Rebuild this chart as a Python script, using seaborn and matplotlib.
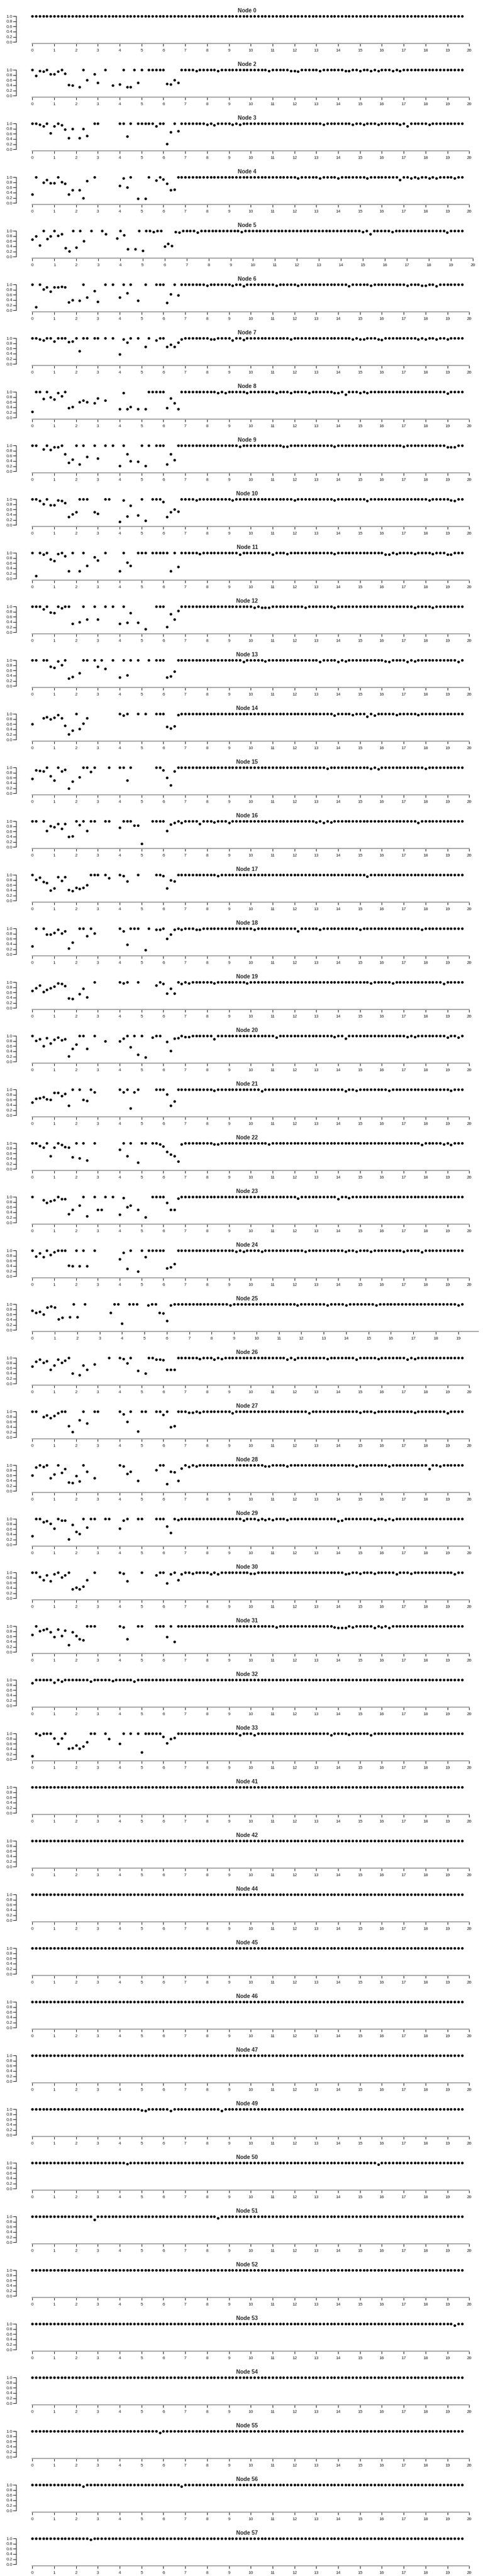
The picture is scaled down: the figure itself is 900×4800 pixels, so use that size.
import numpy as np
import pandas as pd
import matplotlib
matplotlib.use("Agg")
import matplotlib.pyplot as plt
import seaborn as sns

nan = np.nan

# sampling grid: one reading every 1/6 unit, 119 readings per node
time_steps = np.arange(119) / 6

# values per node, 24 readings per line
node_0 = [
    1, 1, 1, 1, 1, 1, 1, 1, 1, 1, 1, 1, 1, 1, 1, 1, 1, 1, 1, 1, 1, 1, 1, 1,
    1, 1, 1, 1, 1, 1, 1, 1, 1, 1, 1, 1, 1, 1, 1, 1, 1, 1, 1, 1, 1, 1, 1, 1,
    1, 1, 1, 1, 1, 1, 1, 1, 1, 1, 1, 1, 1, 1, 1, 1, 1, 1, 1, 1, 1, 1, 1, 1,
    1, 1, 1, 1, 1, 1, 1, 1, 1, 1, 1, 1, 1, 1, 1, 1, 1, 1, 1, 1, 1, 1, 1, 1,
    1, 1, 1, 1, 1, 1, 1, 1, 1, 1, 1, 1, 1, 1, 1, 1, 1, 1, 1, 1, 1, 1, 1]
node_2 = [
    1, .77, .96, .93, 1, .83, .84, .94, 1, .86, .41, .39, nan, .33, 1, .6, nan, .83, .5, nan, 1, nan, .4, nan,
    .44, 1, .33, .33, 1, .5, 1, nan, 1, 1, 1, 1, 1, .47, .44, .6, .5, 1, 1, 1, 1, .95, 1, 1,
    1, 1, 1, .95, 1, 1, 1, 1, 1, 1, 1, 1, 1, 1, 1, 1, 1, .95, 1, 1, 1, 1, 1, .95,
    .95, .94, 1, 1, 1, 1, 1, .96, 1, 1, 1, 1, 1, 1, .95, .95, 1, 1, .95, 1, 1, .95, 1, .95,
    1, 1, 1, .95, 1, .95, 1, 1, 1, 1, 1, 1, 1, 1, 1, 1, 1, 1, 1, 1, 1, 1, 1]
node_3 = [
    1, 1, .95, .89, 1, .62, .89, 1, .93, .78, .44, .8, nan, .44, .8, .53, nan, 1, 1, nan, nan, nan, nan, nan,
    1, 1, .5, 1, nan, 1, 1, 1, 1, 1, .89, 1, 1, .21, .66, 1, .7, 1, 1, 1, 1, 1, 1, 1,
    .96, 1, .94, 1, 1, 1, 1, .95, 1, .95, 1, 1, 1, 1, 1, 1, 1, 1, 1, 1, 1, 1, 1, 1,
    1, 1, 1, 1, 1, 1, 1, 1, .95, 1, 1, 1, 1, 1, 1, 1, .95, 1, 1, .96, 1, 1, 1, .95,
    1, 1, 1, 1, 1, .96, 1, .9, 1, 1, 1, 1, 1, .96, 1, 1, 1, 1, 1, 1, 1, 1, 1]
node_4 = [
    .33, 1, nan, .8, .89, .77, .77, 1, .82, .75, .33, .5, nan, .5, .2, .86, nan, 1, nan, nan, nan, nan, nan, nan,
    .67, .95, .6, 1, nan, .17, nan, .18, 1, nan, .88, 1, .92, .75, .5, .53, 1, 1, 1, 1, 1, 1, 1, 1,
    1, 1, 1, 1, 1, 1, 1, 1, 1, 1, 1, 1, 1, 1, 1, 1, 1, 1, 1, 1, 1, 1, 1, 1,
    1, .95, 1, 1, 1, 1, 1, .95, 1, 1, 1, 1, .95, 1, 1, 1, 1, 1, 1, 1, .95, 1, 1, 1,
    1, 1, 1, 1, 1, .89, 1, 1, .95, 1, .95, 1, 1, .95, 1, .95, 1, 1, 1, 1, .95, 1, 1]
node_5 = [
    .66, .8, .44, 1, .69, .8, 1, .81, .87, .34, .22, 1, .36, 1, .6, nan, 1, nan, nan, 1, .87, nan, nan, .72,
    1, .83, .29, nan, .29, 1, .24, 1, 1, .95, 1, 1, .4, .5, .42, .95, .94, 1, 1, 1, 1, .94, 1, 1,
    1, 1, 1, 1, 1, 1, 1, 1, 1, .95, 1, 1, 1, 1, 1, 1, 1, 1, 1, 1, 1, 1, 1, 1,
    1, 1, 1, 1, 1, 1, 1, 1, 1, 1, 1, 1, 1, 1, 1, 1, 1, 1, .95, 1, .88, 1, 1, 1,
    1, 1, .95, 1, 1, 1, 1, 1, 1, 1, 1, 1, 1, 1, 1, 1, 1, .93, 1, 1, 1, 1, nan]
node_6 = [
    1, .12, 1, .82, .89, .73, .9, .9, .92, .89, .32, .4, nan, .38, 1, .5, nan, .75, .33, nan, 1, nan, 1, nan,
    .5, 1, .67, 1, nan, .37, nan, 1, nan, nan, 1, 1, 1, .3, .63, 1, .59, 1, 1, 1, 1, 1, 1, 1,
    .95, 1, 1, 1, 1, 1, 1, .95, 1, 1, .93, 1, 1, 1, 1, 1, 1, 1, 1, .95, 1, 1, 1, 1,
    1, .95, 1, 1, 1, 1, 1, 1, 1, 1, 1, 1, 1, 1, 1, .94, 1, 1, 1, 1, 1, .95, 1, 1,
    1, 1, 1, 1, 1, 1, 1, .95, 1, 1, 1, .96, .96, 1, 1, .94, 1, 1, 1, 1, 1, 1, 1]
node_7 = [
    1, 1, .95, .91, 1, 1, .87, 1, 1, 1, .86, .87, 1, .5, 1, 1, nan, 1, 1, nan, 1, nan, 1, nan,
    .38, .96, .84, 1, nan, 1, nan, .67, 1, nan, .91, 1, 1, .67, .75, .67, .83, .95, 1, 1, 1, 1, 1, 1,
    1, .95, .95, 1, 1, 1, 1, .91, 1, 1, .93, 1, 1, 1, 1, 1, 1, 1, 1, 1, 1, 1, 1, .96,
    1, 1, 1, 1, 1, 1, 1, 1, 1, 1, 1, 1, 1, 1, 1, 1, .95, 1, .96, .96, 1, 1, 1, .96,
    .94, 1, 1, 1, 1, 1, 1, 1, 1, 1, .96, 1, .95, 1, 1, .95, 1, 1, .96, 1, 1, 1, 1]
node_8 = [
    .24, 1, 1, .73, 1, .8, .72, .95, .84, 1, .38, .43, nan, .6, .67, .6, nan, .57, .75, nan, .67, nan, nan, nan,
    .33, .95, .33, .43, nan, .33, nan, .33, 1, 1, 1, 1, 1, .38, .75, .57, .33, 1, 1, 1, 1, 1, 1, 1,
    1, 1, 1, .95, 1, .95, 1, 1, 1, 1, 1, .95, 1, 1, 1, 1, 1, 1, 1, .95, 1, 1, 1, .95,
    1, 1, 1, 1, .95, 1, 1, 1, 1, 1, 1, .95, .95, 1, .89, 1, 1, 1, .95, 1, .95, 1, 1, 1,
    1, 1, 1, 1, 1, 1, 1, 1, 1, 1, 1, 1, 1, 1, 1, 1, 1, 1, .94, 1, 1, 1, 1]
node_9 = [
    1, 1, nan, .86, 1, .83, .93, .93, 1, .67, .33, .47, 1, .27, 1, .57, nan, 1, .5, nan, 1, nan, 1, nan,
    .21, 1, .67, .4, nan, .37, 1, .22, 1, nan, 1, 1, 1, .27, .67, .45, 1, 1, 1, 1, 1, 1, 1, 1,
    1, 1, 1, 1, 1, 1, 1, 1, 1, .95, 1, 1, 1, 1, 1, 1, 1, 1, 1, 1, 1, .95, .95, 1,
    1, 1, 1, 1, 1, 1, 1, 1, 1, 1, 1, .95, 1, 1, 1, 1, 1, 1, 1, 1, 1, 1, 1, 1,
    1, 1, 1, 1, 1, 1, .95, 1, 1, 1, 1, 1, 1, 1, 1, 1, 1, 1, .94, .94, .94, 1, 1]
node_10 = [
    1, 1, .94, .81, 1, .77, .78, .95, .93, .86, .31, .41, .5, 1, 1, 1, nan, .5, .44, nan, 1, 1, nan, nan,
    .14, .95, .33, .75, nan, .38, 1, .17, nan, 1, 1, 1, .9, .31, .5, .6, .52, 1, 1, 1, 1, .95, 1, 1,
    1, 1, 1, 1, 1, 1, 1, .95, 1, 1, 1, 1, 1, 1, 1, 1, 1, 1, 1, 1, 1, 1, 1, 1,
    .95, 1, 1, 1, 1, 1, 1, 1, 1, 1, 1, .95, 1, 1, 1, 1, 1, 1, 1, 1, .94, 1, 1, 1,
    1, 1, 1, 1, 1, 1, 1, 1, 1, 1, 1, 1, 1, .95, 1, 1, 1, 1, 1, .95, .94, 1, 1]
node_11 = [
    1, .11, 1, .93, 1, .75, .69, .95, 1, .87, .3, 1, nan, .29, 1, .5, nan, .83, .71, nan, 1, nan, nan, nan,
    .3, 1, .63, .5, nan, 1, 1, 1, nan, 1, 1, 1, 1, 1, .3, 1, .47, 1, 1, 1, 1, 1, .95, 1,
    1, 1, 1, 1, 1, 1, 1, 1, 1, .94, 1, 1, 1, 1, 1, 1, 1, 1, .93, 1, 1, 1, .95, 1,
    1, 1, 1, 1, 1, 1, 1, 1, 1, 1, 1, .95, 1, 1, 1, 1, 1, 1, 1, 1, 1, 1, 1, 1,
    1, .94, .94, 1, .95, 1, 1, 1, 1, .95, 1, 1, 1, 1, .95, 1, 1, 1, .94, .93, 1, 1, 1]
node_12 = [
    1, 1, 1, .9, 1, .77, .75, 1, .93, 1, 1, .34, nan, .4, 1, .5, nan, 1, .5, nan, 1, nan, 1, nan,
    .34, 1, .38, .75, nan, .38, nan, .13, nan, nan, 1, 1, 1, .22, .72, .5, .83, 1, 1, 1, 1, 1, 1, 1,
    1, 1, 1, 1, 1, 1, 1, 1, 1, 1, 1, 1, 1, .95, 1, .95, .95, .95, 1, 1, 1, 1, 1, 1,
    1, 1, 1, .95, 1, 1, 1, 1, 1, 1, 1, .95, 1, 1, 1, 1, 1, 1, 1, 1, 1, 1, 1, 1,
    1, 1, 1, 1, 1, 1, 1, 1, 1, .95, 1, 1, 1, 1, .95, 1, 1, 1, 1, 1, 1, 1, 1]
node_13 = [
    1, 1, nan, 1, 1, .75, .71, .95, .82, 1, .29, .35, nan, .5, 1, 1, nan, 1, .75, 1, .67, nan, 1, nan,
    .33, 1, .43, 1, nan, 1, nan, nan, 1, nan, 1, 1, 1, .33, .37, .57, 1, 1, 1, 1, 1, 1, 1, 1,
    1, 1, 1, 1, 1, 1, 1, 1, 1, 1, .93, 1, 1, 1, 1, 1, .95, 1, 1, 1, 1, 1, 1, 1,
    1, 1, 1, 1, 1, 1, 1, .94, 1, 1, 1, 1, .94, 1, .95, 1, 1, 1, 1, 1, 1, 1, 1, 1,
    1, .96, .93, 1, 1, 1, 1, .94, 1, .95, 1, 1, 1, 1, 1, 1, 1, 1, 1, 1, 1, .93, 1]
node_14 = [
    .6, nan, nan, .83, .88, .8, .85, .95, .83, .55, .21, .35, 1, .43, .62, .83, nan, nan, nan, nan, nan, nan, nan, nan,
    1, .93, 1, nan, nan, 1, nan, 1, nan, nan, 1, 1, 1, .5, .44, .52, .95, 1, 1, 1, 1, 1, 1, 1,
    1, 1, 1, 1, 1, 1, 1, 1, 1, 1, 1, 1, 1, 1, 1, 1, 1, 1, 1, 1, 1, 1, 1, 1,
    1, 1, 1, 1, 1, 1, 1, 1, 1, 1, 1, .94, 1, 1, 1, 1, .95, 1, 1, 1, .89, 1, .94, 1,
    1, 1, 1, 1, .95, 1, 1, 1, 1, 1, .95, 1, 1, 1, 1, 1, 1, 1, 1, 1, 1, 1, 1]
node_15 = [
    .57, .9, .88, .85, 1, .67, .5, 1, .86, .92, .19, .46, nan, .63, 1, 1, .83, 1, nan, nan, nan, 1, nan, nan,
    1, 1, .5, 1, nan, nan, nan, nan, nan, nan, 1, 1, .89, .6, .32, .86, 1, 1, 1, 1, 1, 1, 1, 1,
    1, 1, 1, 1, 1, 1, 1, 1, 1, 1, 1, 1, 1, 1, 1, 1, 1, 1, 1, 1, 1, 1, 1, 1,
    1, 1, 1, 1, 1, 1, 1, 1, 1, .95, 1, 1, 1, 1, 1, 1, 1, 1, 1, 1, 1, .95, 1, .94,
    1, 1, 1, 1, 1, 1, 1, 1, 1, 1, 1, 1, .95, 1, 1, 1, 1, 1, 1, 1, 1, 1, 1]
node_16 = [
    1, 1, nan, 1, .63, .82, .78, .89, .7, .89, .4, .41, 1, .85, 1, .63, 1, 1, nan, nan, 1, 1, nan, nan,
    .75, 1, 1, 1, .84, .83, .12, nan, nan, 1, 1, 1, 1, .63, .88, .93, 1, .94, 1, 1, 1, 1, .89, 1,
    1, 1, .95, 1, 1, 1, .94, 1, 1, 1, 1, 1, 1, 1, 1, 1, 1, 1, 1, 1, 1, 1, 1, 1,
    1, 1, 1, 1, 1, 1, .95, 1, .93, 1, .95, 1, 1, 1, 1, 1, 1, 1, 1, 1, 1, 1, 1, 1,
    1, 1, 1, 1, 1, 1, 1, 1, 1, 1, .94, 1, 1, 1, 1, 1, 1, 1, 1, 1, 1, 1, 1]
node_17 = [
    1, .82, .9, .73, .69, .4, .48, .91, .77, .91, .42, .37, .5, .47, .5, .6, 1, 1, 1, nan, 1, .87, nan, nan,
    1, .95, .75, nan, nan, 1, nan, nan, nan, nan, 1, 1, .95, .48, .8, .75, 1, 1, 1, 1, 1, 1, 1, 1,
    1, 1, 1, .95, 1, 1, 1, 1, 1, 1, 1, 1, 1, 1, 1, 1, 1, 1, 1, 1, 1, 1, 1, 1,
    1, 1, 1, 1, 1, 1, 1, 1, 1, 1, 1, 1, 1, 1, 1, 1, 1, 1, 1, 1, .94, 1, 1, 1,
    1, 1, 1, 1, 1, 1, 1, 1, 1, 1, 1, 1, 1, 1, 1, 1, 1, 1, 1, 1, 1, 1, 1]
node_18 = [
    .31, 1, nan, 1, .78, .77, .84, .95, .81, .9, .24, .47, nan, 1, 1, .7, 1, .82, nan, nan, nan, nan, nan, nan,
    1, .89, .38, 1, 1, 1, nan, .18, 1, nan, .95, .95, 1, .6, .77, .95, 1, .95, 1, 1, 1, .95, .95, 1,
    1, 1, 1, 1, 1, 1, 1, 1, 1, 1, 1, 1, 1, .95, 1, 1, 1, 1, 1, 1, 1, 1, 1, 1,
    1, .89, 1, 1, 1, 1, 1, .95, 1, 1, 1, 1, 1, 1, 1, 1, 1, 1, .95, 1, 1, 1, 1, 1,
    1, 1, 1, 1, 1, 1, 1, 1, 1, 1, 1, .96, 1, 1, 1, 1, 1, 1, 1, 1, 1, 1, 1]
node_19 = [
    .67, .77, .87, .62, .7, .77, .83, .95, .94, .86, .38, .36, nan, .55, .75, .43, nan, 1, nan, nan, nan, nan, nan, nan,
    1, .95, 1, nan, nan, 1, nan, nan, nan, nan, .87, 1, .93, .57, .75, .57, 1, .94, 1, .95, 1, 1, 1, 1,
    1, 1, .95, 1, 1, 1, 1, 1, 1, 1, 1, .95, 1, 1, 1, 1, 1, 1, 1, 1, 1, 1, 1, 1,
    1, 1, 1, 1, 1, 1, 1, 1, 1, 1, 1, 1, 1, 1, 1, 1, 1, 1, 1, 1, 1, .95, 1, 1,
    1, 1, 1, .95, 1, 1, 1, 1, 1, 1, 1, 1, 1, 1, 1, 1, 1, .94, 1, 1, 1, 1, 1]
node_20 = [
    1, .81, .87, .6, .91, .7, .85, .94, .84, .87, .22, .5, .67, 1, 1, .5, nan, 1, nan, nan, .8, nan, nan, nan,
    .8, .9, 1, .57, 1, .28, 1, .17, nan, .94, 1, 1, nan, .78, .43, .9, .91, 1, .95, .95, 1, 1, 1, 1,
    1, 1, .88, 1, 1, 1, 1, 1, 1, 1, 1, 1, 1, 1, 1, 1, 1, 1, 1, .94, 1, 1, 1, 1,
    1, 1, 1, 1, 1, 1, 1, 1, 1, 1, 1, .95, 1, 1, .89, 1, 1, 1, 1, 1, 1, 1, 1, 1,
    1, 1, 1, 1, 1, 1, 1, .95, 1, .96, 1, 1, 1, 1, 1, 1, 1, 1, .94, 1, 1, .94, 1]
node_21 = [
    .5, .64, .67, .72, .62, .6, .87, .88, .75, .83, .37, 1, nan, 1, .6, .57, 1, .9, nan, nan, nan, nan, nan, nan,
    1, .89, 1, .27, .9, 1, nan, nan, nan, nan, 1, 1, 1, .82, .37, .55, 1, 1, 1, 1, 1, 1, 1, 1,
    1, 1, .95, 1, 1, 1, 1, 1, 1, 1, 1, 1, 1, 1, 1, .94, 1, 1, 1, 1, 1, 1, 1, 1,
    1, 1, 1, 1, 1, 1, 1, 1, 1, 1, 1, 1, 1, 1, .94, 1, 1, .95, 1, 1, 1, 1, 1, 1,
    1, 1, .96, 1, 1, 1, 1, 1, 1, 1, 1, 1, 1, 1, 1, 1, 1, 1, 1, .95, 1, 1, 1]
node_22 = [
    1, 1, .89, .84, 1, .5, .83, 1, .93, .86, .83, .47, 1, .43, 1, .33, nan, 1, nan, nan, nan, nan, nan, nan,
    .75, 1, .5, 1, nan, .25, 1, 1, nan, 1, 1, .96, .87, .67, .56, .5, .29, .95, 1, 1, 1, 1, 1, 1,
    1, 1, .95, .95, 1, 1, 1, 1, 1, 1, 1, 1, 1, 1, 1, 1, 1, .95, 1, 1, 1, 1, 1, 1,
    1, 1, 1, 1, 1, 1, 1, 1, 1, 1, 1, 1, 1, 1, 1, 1, 1, 1, 1, 1, 1, 1, 1, 1,
    1, 1, 1, 1, 1, 1, 1, 1, 1, 1, 1, .94, 1, 1, 1, 1, 1, .95, 1, .94, 1, 1, 1]
node_23 = [
    1, nan, nan, .87, .78, .83, .87, 1, .91, .91, .34, .5, nan, .67, 1, .25, nan, 1, .5, .5, 1, nan, 1, nan,
    .32, .95, .6, .67, nan, .5, nan, .22, nan, 1, 1, 1, 1, .77, .5, .5, .93, 1, 1, 1, 1, 1, 1, 1,
    1, 1, 1, 1, 1, 1, 1, 1, 1, 1, 1, 1, 1, 1, 1, 1, 1, 1, 1, 1, 1, 1, 1, 1,
    1, .93, 1, 1, 1, 1, 1, 1, 1, 1, 1, 1, .92, 1, 1, .95, 1, 1, 1, 1, 1, 1, 1, 1,
    1, 1, 1, 1, 1, 1, 1, 1, 1, 1, 1, 1, 1, 1, 1, 1, 1, 1, 1, 1, 1, 1, 1]
node_24 = [
    1, .77, .9, .75, 1, .83, .93, 1, 1, 1, .43, .4, 1, .4, 1, .4, nan, 1, nan, nan, nan, nan, nan, nan,
    .67, .91, .3, 1, nan, .2, 1, .75, 1, 1, 1, 1, 1, .31, .36, .48, 1, 1, 1, 1, 1, 1, 1, 1,
    1, 1, 1, 1, 1, 1, 1, 1, .95, 1, .95, 1, 1, 1, 1, .95, 1, 1, 1, 1, 1, 1, 1, 1,
    1, 1, 1, .95, 1, 1, 1, 1, 1, 1, 1, 1, 1, 1, .95, 1, 1, .95, 1, 1, 1, .95, 1, 1,
    1, 1, 1, 1, 1, 1, .95, 1, 1, 1, 1, .94, 1, 1, 1, 1, 1, 1, 1, 1, 1, 1, 1]
node_25 = [
    .75, .67, .7, .6, .88, .92, .88, .43, .48, nan, .5, 1, .5, nan, 1, nan, nan, nan, nan, nan, nan, .67, 1, 1,
    .25, nan, 1, 1, 1, nan, nan, .95, 1, 1, .67, .64, .36, .95, 1, 1, 1, 1, 1, 1, 1, 1, 1, 1,
    1, 1, 1, 1, 1, .95, 1, 1, 1, 1, 1, 1, 1, 1, 1, 1, 1, 1, 1, 1, 1, 1, 1, .95,
    1, 1, 1, 1, 1, 1, 1, .95, 1, 1, 1, 1, .95, 1, 1, 1, 1, 1, 1, 1, .95, 1, 1, 1,
    1, 1, 1, 1, 1, 1, 1, 1, 1, 1, 1, 1, 1, 1, 1, 1, 1, 1, .95, 1, nan, nan, nan]
node_26 = [
    .67, .85, .94, .81, .88, .55, .71, .94, .82, .9, 1, .39, nan, .33, .72, .55, nan, .75, nan, nan, nan, 1, nan, nan,
    1, .95, .8, 1, nan, .5, nan, .4, 1, 1, .94, .94, .92, .55, .55, .54, 1, 1, 1, 1, 1, 1, .95, 1,
    1, 1, .93, 1, .95, 1, 1, 1, 1, 1, 1, 1, 1, 1, 1, 1, 1, 1, 1, 1, 1, 1, .93, 1,
    .93, 1, 1, 1, 1, 1, 1, 1, 1, .95, 1, 1, 1, 1, 1, 1, 1, .93, 1, 1, 1, 1, 1, .95,
    1, 1, 1, 1, 1, 1, 1, .94, 1, .96, 1, 1, 1, 1, 1, 1, 1, 1, 1, 1, 1, 1, 1]
node_27 = [
    1, 1, nan, .8, .85, .75, .84, .94, 1, 1, .44, .21, nan, .67, 1, .55, nan, 1, 1, nan, nan, nan, nan, nan,
    1, .89, .6, 1, nan, .23, 1, 1, nan, nan, 1, 1, .88, 1, .4, .45, 1, 1, 1, .95, .95, 1, .95, 1,
    1, 1, 1, 1, 1, 1, 1, .94, 1, 1, 1, 1, 1, 1, 1, 1, 1, 1, 1, 1, 1, 1, 1, 1,
    1, 1, 1, 1, .94, 1, 1, 1, 1, 1, 1, 1, 1, 1, 1, 1, 1, 1, .95, 1, 1, 1, .95, 1,
    1, 1, 1, 1, 1, 1, 1, 1, 1, .95, 1, 1, 1, 1, 1, 1, 1, 1, .94, 1, 1, 1, 1]
node_28 = [
    .6, .92, 1, .93, 1, .5, .64, 1, .72, .86, .34, .31, .59, .37, 1, .75, nan, .5, nan, nan, nan, nan, nan, nan,
    1, .95, .67, .75, nan, .4, nan, nan, nan, nan, .82, 1, 1, .28, .75, .73, .4, .88, 1, .93, 1, .95, 1, 1,
    1, 1, 1, 1, 1, 1, 1, 1, 1, 1, 1, 1, 1, 1, 1, 1, .95, .95, 1, 1, 1, 1, .95, 1,
    1, 1, 1, 1, 1, 1, 1, 1, 1, 1, 1, 1, 1, 1, 1, 1, 1, .95, 1, 1, 1, 1, 1, 1,
    1, 1, .95, 1, 1, 1, 1, 1, 1, 1, 1, 1, 1, .86, 1, 1, .95, 1, 1, 1, 1, 1, 1]
node_29 = [
    .33, 1, 1, .88, .91, .81, .63, 1, .93, .93, .22, .78, .5, .42, 1, .67, 1, 1, nan, nan, 1, 1, nan, nan,
    .63, .93, 1, nan, nan, 1, 1, nan, nan, nan, 1, 1, 1, .7, .47, 1, .95, 1, 1, 1, 1, 1, 1, 1,
    1, 1, 1, 1, 1, 1, 1, 1, 1, 1, .94, 1, 1, 1, .95, 1, .95, 1, .95, 1, 1, 1, .95, 1,
    1, 1, 1, 1, 1, 1, 1, 1, 1, 1, 1, 1, .92, .94, 1, 1, 1, 1, 1, 1, 1, 1, .95, 1,
    1, .96, 1, .95, 1, 1, 1, 1, 1, 1, 1, 1, 1, 1, 1, 1, 1, 1, 1, 1, 1, 1, 1]
node_30 = [
    1, 1, .83, .7, .89, .67, .93, 1, .82, .9, 1, .35, .42, .35, .47, .72, nan, 1, nan, nan, nan, nan, nan, nan,
    1, .95, .67, nan, nan, nan, 1, nan, nan, nan, .9, 1, 1, .59, .93, 1, .7, .93, 1, 1, .95, 1, 1, 1,
    1, .93, 1, .93, 1, 1, 1, 1, 1, 1, 1, 1, .95, .95, 1, 1, 1, 1, 1, 1, 1, 1, 1, 1,
    1, 1, 1, 1, 1, 1, 1, 1, 1, 1, 1, 1, 1, 1, .94, .95, 1, 1, .95, 1, 1, 1, .95, 1,
    1, 1, 1, 1, .94, 1, 1, 1, .95, 1, 1, 1, 1, 1, 1, 1, 1, 1, 1, 1, .94, 1, 1]
node_31 = [
    .67, 1, .81, .85, .9, .78, .59, .87, .62, .84, .27, .78, .62, .5, .47, 1, 1, 1, nan, nan, nan, nan, nan, nan,
    1, .95, .5, nan, nan, 1, 1, nan, nan, nan, 1, 1, 1, .59, 1, .39, 1, 1, 1, 1, 1, 1, 1, 1,
    1, 1, 1, 1, 1, 1, 1, 1, 1, 1, 1, 1, 1, 1, 1, 1, 1, 1, 1, .95, 1, 1, 1, 1,
    1, 1, 1, 1, 1, 1, 1, 1, 1, 1, 1, .95, .94, .94, .94, 1, .96, 1, 1, 1, 1, 1, .94, 1,
    .95, 1, .94, 1, 1, 1, 1, 1, 1, 1, 1, 1, 1, 1, 1, 1, 1, 1, 1, 1, 1, 1, 1]
node_32 = [
    .87, 1, 1, 1, 1, 1, .89, 1, .94, 1, 1, 1, 1, 1, 1, 1, .94, 1, 1, 1, 1, 1, .95, 1,
    1, 1, 1, 1, .94, 1, 1, 1, 1, 1, 1, 1, 1, 1, 1, 1, 1, 1, 1, 1, 1, 1, 1, 1,
    1, 1, 1, 1, 1, 1, 1, 1, 1, 1, 1, 1, 1, 1, 1, 1, 1, 1, 1, 1, 1, 1, 1, 1,
    1, 1, 1, 1, 1, 1, 1, 1, 1, 1, 1, 1, 1, 1, 1, 1, 1, 1, 1, 1, 1, 1, 1, 1,
    1, 1, 1, 1, 1, 1, 1, 1, 1, 1, 1, 1, 1, 1, 1, 1, 1, 1, 1, 1, 1, 1, 1]
node_33 = [
    .14, 1, .93, 1, 1, 1, .81, .61, .82, 1, .43, .44, .54, .42, .5, .67, 1, 1, nan, nan, 1, .8, nan, nan,
    .6, 1, nan, 1, nan, 1, .27, 1, 1, 1, 1, 1, .87, .62, .8, .83, 1, 1, 1, 1, 1, 1, 1, 1,
    1, 1, 1, 1, 1, 1, 1, 1, 1, .94, 1, 1, 1, .93, 1, 1, 1, 1, 1, 1, 1, 1, 1, 1,
    1, 1, 1, 1, 1, 1, 1, 1, 1, 1, .93, 1, 1, 1, 1, .95, 1, 1, 1, 1, 1, .94, 1, 1,
    1, 1, 1, 1, 1, 1, 1, 1, 1, 1, 1, 1, 1, 1, 1, 1, 1, 1, 1, 1, 1, 1, 1]
node_41 = [
    1, 1, 1, 1, 1, 1, 1, 1, 1, 1, 1, 1, 1, 1, 1, 1, 1, 1, 1, 1, 1, 1, 1, 1,
    1, 1, 1, 1, 1, 1, 1, 1, 1, 1, 1, 1, 1, 1, 1, 1, 1, 1, 1, 1, 1, 1, 1, 1,
    1, 1, 1, 1, 1, 1, 1, 1, 1, 1, 1, 1, 1, 1, 1, 1, 1, 1, 1, 1, 1, 1, 1, 1,
    1, 1, 1, 1, 1, 1, 1, 1, 1, 1, 1, 1, 1, 1, 1, 1, 1, 1, 1, 1, 1, 1, 1, 1,
    1, 1, 1, 1, 1, 1, 1, 1, 1, 1, 1, 1, 1, 1, 1, 1, 1, 1, 1, 1, 1, 1, 1]
node_42 = list(node_41)
node_44 = list(node_41)
node_45 = list(node_41)
node_46 = list(node_41)
node_47 = list(node_41)
node_49 = [
    1, 1, 1, 1, 1, 1, 1, 1, 1, 1, 1, 1, 1, 1, 1, 1, 1, 1, 1, 1, 1, 1, 1, 1,
    1, 1, 1, 1, 1, 1, .95, .94, 1, 1, 1, 1, 1, 1, .94, 1, 1, 1, 1, 1, 1, 1, 1, 1,
    1, 1, 1, 1, .94, 1, 1, 1, 1, 1, 1, 1, 1, 1, 1, 1, 1, 1, 1, 1, 1, 1, 1, 1,
    1, 1, 1, 1, 1, 1, 1, 1, 1, 1, 1, 1, 1, 1, 1, 1, 1, 1, 1, 1, 1, 1, 1, 1,
    1, 1, 1, 1, 1, 1, 1, 1, 1, 1, 1, 1, 1, 1, 1, 1, 1, 1, 1, 1, 1, 1, 1]
node_50 = [
    1, 1, 1, 1, 1, 1, 1, 1, 1, 1, 1, 1, 1, 1, 1, 1, 1, 1, 1, 1, 1, 1, 1, 1,
    1, 1, .95, 1, 1, 1, 1, 1, 1, 1, 1, 1, 1, 1, 1, 1, 1, 1, 1, 1, 1, 1, 1, 1,
    1, 1, 1, 1, 1, 1, 1, 1, 1, 1, 1, 1, 1, 1, 1, 1, 1, 1, 1, 1, 1, 1, 1, 1,
    1, 1, 1, 1, 1, 1, 1, 1, 1, 1, 1, 1, 1, 1, 1, 1, 1, 1, 1, 1, 1, 1, 1, .94,
    1, 1, 1, 1, 1, 1, 1, 1, 1, 1, 1, 1, 1, 1, 1, 1, 1, 1, 1, 1, 1, 1, 1]
node_51 = [
    1, 1, 1, 1, 1, 1, 1, 1, 1, 1, 1, 1, 1, 1, 1, 1, 1, .87, 1, 1, 1, 1, 1, 1,
    1, 1, 1, 1, 1, 1, 1, 1, 1, 1, 1, 1, 1, 1, 1, 1, 1, 1, 1, 1, 1, 1, 1, 1,
    1, 1, 1, .93, 1, 1, 1, 1, 1, 1, 1, 1, 1, 1, 1, 1, 1, 1, 1, 1, 1, 1, 1, 1,
    1, 1, 1, 1, 1, 1, 1, 1, 1, 1, 1, 1, 1, 1, 1, 1, 1, 1, 1, 1, 1, 1, 1, 1,
    1, 1, 1, 1, 1, 1, 1, 1, 1, 1, 1, 1, 1, 1, 1, 1, 1, 1, 1, 1, 1, 1, 1]
node_52 = list(node_41)
node_53 = [
    1, 1, 1, 1, 1, 1, 1, 1, 1, 1, 1, 1, 1, 1, 1, 1, 1, 1, 1, 1, 1, 1, 1, 1,
    1, 1, 1, 1, 1, 1, 1, 1, 1, 1, 1, 1, 1, 1, 1, 1, 1, 1, 1, 1, 1, 1, 1, 1,
    1, 1, 1, 1, 1, 1, 1, 1, 1, 1, 1, 1, 1, 1, 1, 1, 1, 1, 1, 1, 1, 1, 1, 1,
    1, 1, 1, 1, 1, 1, 1, 1, 1, 1, 1, 1, 1, 1, 1, 1, 1, 1, 1, 1, 1, 1, 1, 1,
    1, 1, 1, 1, 1, 1, 1, 1, 1, 1, 1, 1, 1, 1, 1, 1, 1, 1, 1, 1, .93, 1, 1]
node_54 = list(node_41)
node_55 = [
    1, 1, 1, 1, 1, 1, 1, 1, 1, 1, 1, 1, 1, 1, 1, 1, 1, 1, 1, 1, 1, 1, 1, 1,
    1, 1, 1, 1, 1, 1, 1, 1, 1, 1, 1, .93, 1, 1, 1, 1, 1, 1, 1, 1, 1, 1, 1, 1,
    1, 1, 1, 1, 1, 1, 1, 1, 1, 1, 1, 1, 1, 1, 1, 1, 1, 1, 1, 1, 1, 1, 1, 1,
    1, 1, 1, 1, 1, 1, 1, 1, 1, 1, 1, 1, 1, 1, 1, 1, 1, 1, 1, 1, 1, 1, 1, 1,
    1, 1, 1, 1, 1, 1, 1, 1, 1, 1, 1, 1, 1, 1, 1, 1, 1, 1, 1, 1, 1, 1, 1]
node_56 = [
    1, 1, 1, 1, 1, 1, 1, 1, 1, 1, 1, 1, 1, 1, .94, 1, 1, 1, 1, 1, 1, 1, 1, 1,
    1, 1, 1, 1, 1, 1, 1, 1, 1, 1, 1, 1, 1, 1, 1, 1, 1, .93, 1, 1, 1, 1, 1, 1,
    1, 1, 1, 1, 1, 1, 1, 1, 1, 1, 1, 1, 1, 1, 1, 1, 1, 1, 1, 1, 1, 1, 1, 1,
    1, 1, 1, 1, 1, 1, 1, 1, 1, 1, 1, 1, 1, 1, 1, 1, 1, 1, 1, 1, 1, 1, 1, 1,
    1, 1, 1, 1, 1, 1, 1, 1, 1, 1, 1, 1, 1, 1, 1, 1, 1, 1, 1, 1, 1, 1, 1]
node_57 = [
    1, 1, 1, 1, 1, 1, 1, 1, 1, 1, 1, 1, 1, 1, 1, 1, .95, 1, 1, 1, 1, 1, 1, 1,
    1, 1, 1, 1, 1, 1, 1, 1, 1, 1, 1, 1, 1, 1, 1, 1, 1, 1, 1, 1, 1, 1, 1, 1,
    1, 1, 1, 1, 1, 1, 1, 1, 1, 1, 1, 1, 1, 1, 1, 1, 1, 1, 1, 1, 1, 1, 1, 1,
    1, 1, 1, 1, 1, 1, 1, 1, 1, 1, 1, 1, 1, 1, 1, 1, 1, 1, 1, 1, 1, 1, 1, 1,
    1, 1, 1, 1, 1, 1, 1, 1, 1, 1, 1, 1, 1, 1, 1, 1, 1, 1, 1, 1, 1, 1, 1]

node_names = ["Node 0"] + ["Node %d" % n for n in range(2, 34)] + [
    "Node 41", "Node 42", "Node 44", "Node 45", "Node 46", "Node 47", "Node 49",
    "Node 50", "Node 51", "Node 52", "Node 53", "Node 54", "Node 55", "Node 56", "Node 57"]
node_series = [
    node_0, node_2, node_3, node_4, node_5, node_6, node_7, node_8, node_9, node_10,
    node_11, node_12, node_13, node_14, node_15, node_16, node_17, node_18, node_19, node_20,
    node_21, node_22, node_23, node_24, node_25, node_26, node_27, node_28, node_29, node_30,
    node_31, node_32, node_33, node_41, node_42, node_44, node_45, node_46, node_47, node_49,
    node_50, node_51, node_52, node_53, node_54, node_55, node_56, node_57]

y_ticks = [0, 0.2, 0.4, 0.6, 0.8, 1.0]
y_tick_labels = ["0.0", "0.2", "0.4", "0.6", "0.8", "1.0"]

sns.set_style("ticks")
plt.rcParams["font.family"] = ["Liberation Sans", "DejaVu Sans"]

#Layout in pixels
fig_w, fig_h = 900, 4800
row_h = 100
ax_left, ax_width = 30, 861
ax_top, ax_h = 27.6, 53.1
x_pad = 0.0378

fig = plt.figure(figsize=(fig_w / 100, fig_h / 100), dpi=100)
fig.patch.set_facecolor("white")

for k, (name, values) in enumerate(zip(node_names, node_series)):
    bottom = fig_h - (k * row_h + ax_top + ax_h)
    ax = fig.add_axes([ax_left / fig_w, bottom / fig_h, ax_width / fig_w, ax_h / fig_h])
    df = pd.DataFrame({"time": time_steps[:len(values)], "share": values})
    sns.scatterplot(data=df, x="time", y="share", ax=ax, color="black",
                    s=12, linewidth=0, legend=False)

    last = df.dropna()["time"].max()
    right = last * (1 + x_pad)
    ax.set_xticks([t for t in range(21) if t <= right])
    ax.set_yticks(y_ticks)
    ax.set_yticklabels(y_tick_labels)
    ax.set_xlim(-x_pad * last, right)
    ax.set_ylim(-0.05, 1.05)
    ax.set_xlabel("")
    ax.set_ylabel("")
    ax.set_title(name, fontsize=7.5, fontweight="bold", pad=3)

    sns.despine(ax=ax)
    ax.spines["left"].set_bounds(0, 1)
    ax.spines["left"].set_color("#333333")
    ax.spines["left"].set_linewidth(0.8)
    ax.spines["bottom"].set_bounds(0, min(20, right))
    ax.spines["bottom"].set_color("#a6a6a6")
    ax.spines["bottom"].set_linewidth(1.5)
    ax.tick_params(axis="x", length=3.6, width=0.8, color="#222222", pad=4, labelsize=6)
    ax.tick_params(axis="y", length=4.3, width=0.8, color="#222222", pad=0.5, labelsize=6)

fig.savefig("out.png", dpi=100)
